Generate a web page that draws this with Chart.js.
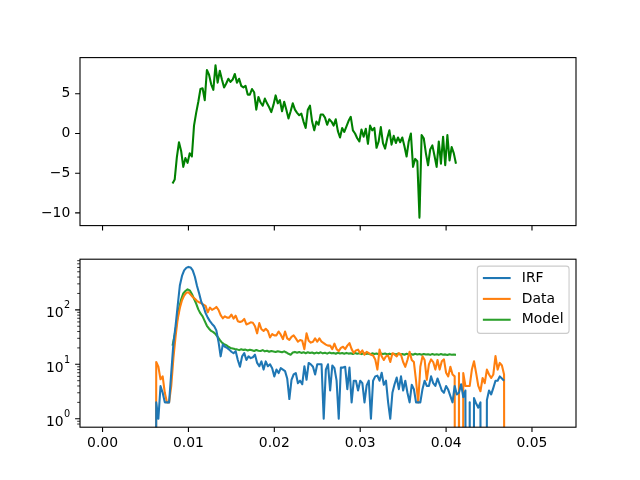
<!DOCTYPE html>
<html>
<head>
<meta charset="utf-8">
<script src="https://cdn.jsdelivr.net/npm/chart.js@4.4.0/dist/chart.umd.min.js"></script>
<style>
  body { margin: 0; background: #fff; }
  #wrap { position: relative; width: 640px; height: 480px; }
  canvas { position: absolute; left: 0; }
</style>
</head>
<body>
<div id="wrap">
  <canvas id="residChart" width="640" height="240" style="top:0"></canvas>
  <canvas id="decayChart" width="640" height="240" style="top:240px"></canvas>
</div>
<script>
// time bins (s)
const dataStart = 0.006;
const fitStart = 0.00815;
const binWidth = 0.00025;

const xTicks = [0, 0.01, 0.02, 0.03, 0.04, 0.05];
const residTicks = [-10, -5, 0, 5];
const logTicks = [1, 10, 100];

// residuals of the fit
const residual = [
  -6.3, -5.8, -3.0, -1.1, -2.2, -4.2, -3.1, -3.7, -2.5, -2.9,
  1.0, 2.6, 4.0, 5.6, 5.7, 4.2, 8.0, 7.4, 6.2, 5.5,
  8.6, 6.4, 7.9, 6.8, 5.8, 6.3, 6.9, 6.5, 6.8, 7.5,
  6.4, 6.9, 6.0, 5.8, 6.0, 4.9, 4.9, 5.6, 5.2, 3.0,
  4.6, 3.9, 3.5, 4.4, 3.8, 3.3, 2.7, 3.6, 4.8, 3.8,
  4.2, 2.8, 4.0, 3.0, 1.9, 2.8, 3.8, 3.0, 2.6, 2.3,
  2.5, 1.5, 0.7, 3.0, 3.5, 1.5, 0.4, 1.5, 1.1, 2.4,
  2.4, 2.0, 1.1, 1.8, 1.5, 1.0, 1.8, 0.3, -0.5, 0.7,
  0.2, 0.9, 1.6, 2.1, 0.4, 0.0, -0.6, -1.0, 0.5, -0.4,
  0.6, -1.3, 1.0, 0.4, 0.7, -1.8, -1.0, 0.8, -1.2, -1.9,
  -0.6, 0.4, -1.4, -0.3, -1.2, -0.5, -1.1, -0.5, -1.6, -2.9,
  -1.0, 0.0, -4.2, -3.2, -3.5, -10.6, -0.2, -0.6, -2.5, -4.0,
  -2.0, -1.5, -2.8, -4.2, -1.0, -3.8, -0.4, -4.0, -0.2, -3.4, -1.7, -2.5, -3.8
];

const irf = [
  0, 2, 1, 4, 3, 2, 2, 2, 7, 24,
  50, 120, 280, 420, 530, 590, 615, 600, 530, 405,
  275, 200, 140, 115, 87, 72, 62, 55, 50, 42,
  26, 14, 23, 21, 20, 18.6, 17, 16, 17.4, 12,
  9, 14, 16, 12, 14, 13, 13.5, 15, 10.6, 9.2,
  11.3, 8, 11.3, 9.2, 10, 8.5, 6, 8, 6.9, 8.5,
  8, 7.5, 5.5, 2.3, 5.2, 6.5, 6.9, 4.5, 5, 4.3,
  9.2, 5.2, 10.6, 10, 9, 6.5, 10, 10, 10, 1,
  8, 10, 3.3, 9.5, 8.5, 5, 1, 8.7, 8.7, 9,
  3.5, 8.7, 2, 5, 5, 3.3, 5, 4.5, 2, 4.1,
  5, 1, 5, 6, 6.2, 5, 7, 4.2, 5, 2,
  1, 3, 4.3, 5.7, 3.5, 6, 3.3, 5, 3, 2,
  4.2, 3.5, 2, 2, 2, 3.5, 5, 4, 4, 6,
  4.5, 4, 5.5, 4.3, 3.3, 3, 4, 3.4, 2.6, 2,
  4, 2.8, 3, 4.3, 2.5, 3.3, 0, 2, 0, 2.4,
  1.9, 1.6, 2, 0, 0, 2.2, 3.3, 2.8, 3.7, 5,
  5, 6, 5.5, 5
];

const counts = [
  0, 11, 9, 5.3, 6, 3, 2, 2, 4, 13,
  32, 68, 108, 150, 182, 205, 210, 190, 172, 160,
  145, 138, 132, 125, 118, 90, 110, 100, 105, 113,
  100, 80, 70, 76, 72, 72, 82, 69, 78, 62,
  60, 62, 68, 54, 56, 59, 58, 50, 37, 57,
  44, 41, 45, 41, 31, 36, 34, 34, 40, 35,
  29, 40, 30, 28, 32, 34, 30, 26, 28, 27,
  19, 37, 27, 25, 26, 30, 26, 30, 26, 24.5,
  23, 22, 22, 19, 24, 19, 17.5, 20, 21, 19,
  22, 24.5, 19, 16.2, 18, 18.6, 16, 18, 15, 17,
  16, 15, 14.5, 12.3, 8, 18.6, 14, 12, 14, 14.5,
  11, 16, 15, 14, 16, 15, 11, 9, 12, 17,
  12, 11, 5, 2, 9, 14, 12, 5.2, 10, 12.3,
  11, 8, 12, 8, 11.4, 12.3, 7, 6, 9, 6.5,
  6, 0, 6.9, 0, 6.9, 4, 4, 4, 8, 11.4,
  6.9, 4, 3.2, 5.6, 4.5, 8, 6.5, 5.6, 6.5, 14.2,
  8, 10.6, 9.5, 6.5, 0
];

const model = [
  22, 35, 60, 105, 155, 200, 222, 238, 228, 195,
  160, 130, 102, 86, 76, 62, 51, 45, 41, 39,
  36, 32, 28, 25, 23.5, 22.5, 21, 20, 19.5, 19,
  18.8, 18.2, 18.9, 18.4, 18.6, 17.9, 18.5, 18.1, 17.6, 18.3,
  17.8, 17.5, 18.2, 17.3, 17.7, 17.0, 17.6, 17.2, 16.8, 17.4,
  17.0, 16.6, 17.3, 16.5, 15.6, 15.0, 16.4, 16.9, 16.3, 16.8,
  16.2, 16.7, 16.0, 16.6, 16.1, 16.5, 15.8, 16.4, 16.0, 16.6,
  15.9, 16.3, 15.7, 16.4, 15.9, 16.2, 15.6, 16.3, 15.8, 16.1,
  15.6, 16.2, 15.7, 16.0, 15.5, 16.1, 15.6, 15.9, 15.4, 16.0,
  15.5, 15.8, 15.3, 15.9, 15.4, 15.8, 15.3, 15.7, 15.4, 15.8,
  15.2, 15.7, 15.3, 15.6, 15.1, 15.7, 15.2, 15.5, 15.0, 15.6,
  15.2, 15.5, 15.0, 15.6, 15.1, 15.4, 15.0, 15.5, 15.1, 15.3,
  14.9, 15.4, 15.0, 15.3, 14.9, 15.4, 15.0, 15.2, 14.8, 15.3, 15.0, 15.1, 14.9
];

const xMin = -0.002625, xMax = 0.055125;
const FS = 13.9;

// zero counts drop off the bottom of the log axis like in matplotlib
function toPoints(start, values, logAxis) {
  return values.map((v, i) => ({
    x: start + i * binWidth,
    y: (logAxis && v <= 0) ? 1e-30 : v
  }));
}

// keep the plot box fixed, labels must not push it around
function fixBox(size) {
  return s => {
    if (s.isHorizontal()) s.height = size; else s.width = size;
    s.paddingTop = 0; s.paddingBottom = 0; s.paddingLeft = 0; s.paddingRight = 0;
  };
}

Chart.defaults.font.family = "'DejaVu Sans', sans-serif";
Chart.defaults.font.size = FS;
Chart.defaults.color = '#000';

// box, tick marks (major + minor), 10^n labels
const framePlugin = {
  id: 'frame',
  afterDraw(chart, args, opts) {
    const {ctx, chartArea: a, scales} = chart;
    ctx.save();
    ctx.strokeStyle = '#000';
    ctx.lineWidth = 1.1;
    ctx.beginPath();
    xTicks.forEach(v => {
      const px = scales.x.getPixelForValue(v);
      ctx.moveTo(px, a.bottom);
      ctx.lineTo(px, a.bottom + 4.9);
    });
    opts.major.forEach(v => {
      const py = scales.y.getPixelForValue(v);
      ctx.moveTo(a.left, py);
      ctx.lineTo(a.left - 4.9, py);
    });
    ctx.stroke();
    if (opts.minor) {
      ctx.lineWidth = 0.8;
      ctx.beginPath();
      opts.minor.forEach(v => {
        const py = scales.y.getPixelForValue(v);
        ctx.moveTo(a.left, py);
        ctx.lineTo(a.left - 2.8, py);
      });
      ctx.stroke();
    }
    if (opts.powers) {
      ctx.fillStyle = '#000';
      ctx.textAlign = 'right';
      ctx.textBaseline = 'alphabetic';
      const xr = a.left - 9.7;
      opts.major.forEach(v => {
        const py = scales.y.getPixelForValue(v);
        const ex = String(Math.round(Math.log10(v)));
        ctx.font = (FS * 0.7) + "px 'DejaVu Sans'";
        const ew = ctx.measureText(ex).width;
        ctx.fillText(ex, xr, py - 1.6);
        ctx.font = FS + "px 'DejaVu Sans'";
        ctx.fillText('10', xr - ew - 0.5, py + 7.4);
      });
    }
    ctx.lineWidth = 1.1;
    ctx.strokeRect(a.left, a.top, a.right - a.left, a.bottom - a.top);
    ctx.restore();
  }
};

// matplotlib style legend box in the upper right corner
const boxLegendPlugin = {
  id: 'boxLegend',
  afterDraw(chart) {
    const {ctx, chartArea: a} = chart;
    const fs = FS;
    ctx.save();
    ctx.font = fs + "px 'DejaVu Sans'";
    const sets = chart.data.datasets;
    const textW = Math.max(...sets.map(d => ctx.measureText(d.label).width));
    const w = 0.4 * fs + 2 * fs + 0.8 * fs + textW + 0.4 * fs;
    const h = 67.2;
    const left = a.right - 0.5 * fs - w;
    const top = a.top + 0.5 * fs;
    ctx.beginPath();
    ctx.roundRect(left, top, w, h, 2.8);
    ctx.fillStyle = 'rgba(255,255,255,0.8)';
    ctx.fill();
    ctx.strokeStyle = '#cccccc';
    ctx.lineWidth = 1.1;
    ctx.stroke();
    sets.forEach((d, i) => {
      const y = top + 11.9 + i * 20.85;
      ctx.strokeStyle = d.borderColor;
      ctx.lineWidth = d.borderWidth;
      ctx.beginPath();
      ctx.moveTo(left + 0.4 * fs, y);
      ctx.lineTo(left + 2.4 * fs, y);
      ctx.stroke();
      ctx.fillStyle = '#000';
      ctx.textBaseline = 'middle';
      ctx.fillText(d.label, left + 3.2 * fs, y);
    });
    ctx.restore();
  }
};

const minorLog = [];
for (let e = -1; e <= 2; e++) {
  for (let m = 2; m <= 9; m++) {
    const v = m * Math.pow(10, e);
    if (v > 0.724 && v < 851) minorLog.push(v);
  }
}

const lineStyle = { pointRadius: 0, borderJoinStyle: 'round', tension: 0, borderWidth: 2.08 };

new Chart(document.getElementById('residChart'), {
  type: 'line',
  data: {
    datasets: [
      Object.assign({ label: 'Residual', data: toPoints(fitStart, residual, false), borderColor: '#008000' }, lineStyle)
    ]
  },
  options: {
    responsive: false,
    animation: false,
    devicePixelRatio: 1,
    layout: { padding: { top: 57.6, right: 64, bottom: 0, left: 0 } },
    plugins: {
      legend: { display: false },
      tooltip: { enabled: false },
      frame: { major: residTicks }
    },
    scales: {
      x: {
        type: 'linear', min: xMin, max: xMax,
        grid: { display: false, drawTicks: false },
        border: { display: false },
        ticks: { display: false },
        afterFit: fixBox(14.4)
      },
      y: {
        type: 'linear', min: -11.6, max: 9.56,
        grid: { display: false, drawTicks: false },
        border: { display: false },
        ticks: {
          padding: 9.7,
          callback: v => v < 0 ? '\u2212' + Math.abs(v) : String(v)
        },
        afterBuildTicks: s => { s.ticks = residTicks.map(v => ({ value: v })); },
        afterFit: fixBox(80)
      }
    }
  },
  plugins: [framePlugin]
});

new Chart(document.getElementById('decayChart'), {
  type: 'line',
  data: {
    datasets: [
      Object.assign({ label: 'IRF', data: toPoints(dataStart, irf, true), borderColor: '#1f77b4' }, lineStyle),
      Object.assign({ label: 'Data', data: toPoints(dataStart, counts, true), borderColor: '#ff7f0e' }, lineStyle),
      Object.assign({ label: 'Model', data: toPoints(fitStart, model, true), borderColor: '#2ca02c' }, lineStyle)
    ]
  },
  options: {
    responsive: false,
    animation: false,
    devicePixelRatio: 1,
    layout: { padding: { top: 19.2, right: 64, bottom: 0, left: 0 } },
    plugins: {
      legend: { display: false },
      tooltip: { enabled: false },
      frame: { major: logTicks, minor: minorLog, powers: true }
    },
    scales: {
      x: {
        type: 'linear', min: xMin, max: xMax,
        grid: { display: false, drawTicks: false },
        border: { display: false },
        ticks: { padding: 7.8, maxRotation: 0, callback: v => v.toFixed(2) },
        afterBuildTicks: s => { s.ticks = xTicks.map(v => ({ value: v })); },
        afterFit: fixBox(52.8)
      },
      y: {
        type: 'logarithmic', min: 0.724, max: 851,
        grid: { display: false, drawTicks: false },
        border: { display: false },
        ticks: { display: false },
        afterBuildTicks: s => { s.ticks = logTicks.map(v => ({ value: v })); },
        afterFit: fixBox(80)
      }
    }
  },
  plugins: [framePlugin, boxLegendPlugin]
});
</script>
</body>
</html>
